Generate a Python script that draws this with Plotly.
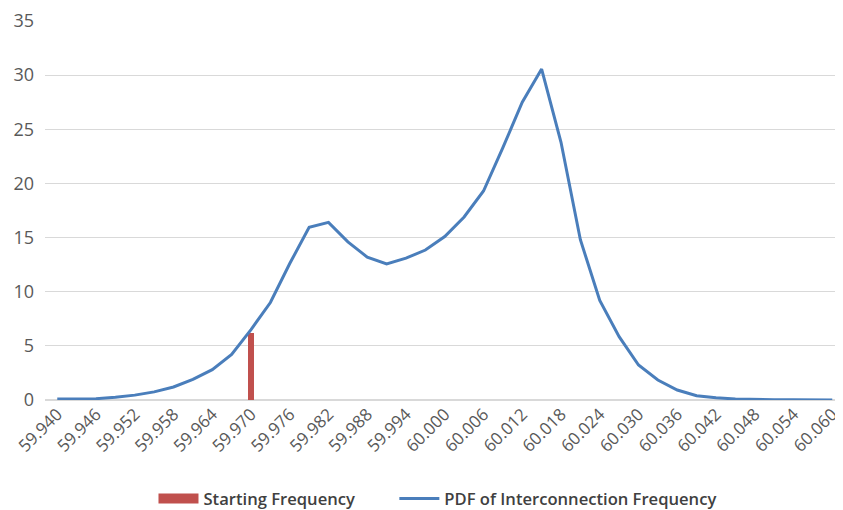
import plotly.graph_objects as go

freq = [round(59.940 + 0.003 * i, 3) for i in range(41)]
pdf_vals = [0.1, 0.1, 0.12, 0.25, 0.45, 0.75, 1.2, 1.9, 2.8, 4.2,
            6.5, 9.0, 12.6, 15.95, 16.4, 14.6, 13.2, 12.56, 13.1, 13.85,
            15.1, 16.9, 19.3, 23.3, 27.5, 30.56, 23.8, 14.8, 9.2, 5.85,
            3.23, 1.85, 0.92, 0.4, 0.2, 0.1, 0.05, 0.03, 0.02, 0.01, 0.01]
start_freq = [59.970]
start_height = [6.2]
tick_vals = [round(59.940 + 0.006 * i, 3) for i in range(21)]
tick_text = ["%.3f" % v for v in tick_vals]
y_ticks = [0, 5, 10, 15, 20, 25, 30, 35]

RED = "#C0504D"
BLUE = "#4A7EBB"

fig = go.Figure()
fig.add_trace(go.Bar(x=start_freq, y=start_height, width=0.0008,
                     marker=dict(color=RED, line=dict(width=0)),
                     name="Starting Frequency", showlegend=False))
# legend entry for the bar, drawn as a wide rectangle like the reference
fig.add_trace(go.Scatter(x=[None], y=[None], mode="lines",
                         line=dict(color=RED, width=10),
                         name="Starting Frequency" + "\u00a0" * 8))
fig.add_trace(go.Scatter(x=freq, y=pdf_vals, mode="lines",
                         line=dict(color=BLUE, width=3),
                         name="PDF of Interconnection Frequency"))

# the page body adds an 8px offset, so the figure is 8px smaller
fig.update_layout(
    width=835, height=502,
    margin=dict(l=37, r=3, t=13, b=110, autoexpand=False),
    plot_bgcolor="white", paper_bgcolor="white",
    font=dict(family="Open Sans, Calibri, Arial", color="#595959", size=14),
    showlegend=True,
    legend=dict(orientation="h", x=0.4937, xanchor="center", y=-0.214, yanchor="top",
                font=dict(size=16.6, color="#404040", weight=600), traceorder="normal",
                itemwidth=40),
    xaxis=dict(range=[59.9381, 60.0612], tickmode="array", tickvals=tick_vals,
               ticktext=tick_text, tickangle=-45, showgrid=False, zeroline=False,
               showline=False, ticks="", automargin=False,
               tickfont=dict(size=17, color="#595959")),
    yaxis=dict(range=[0, 35], tickmode="array", tickvals=y_ticks, showgrid=True,
               gridcolor="#D9D9D9", gridwidth=1, zeroline=True, zerolinecolor="#D9D9D9",
               showline=False, ticks="", automargin=False, ticklabelstandoff=10,
               tickfont=dict(size=18, color="#595959")),
    bargap=0,
)
fig.write_html("out.html")
